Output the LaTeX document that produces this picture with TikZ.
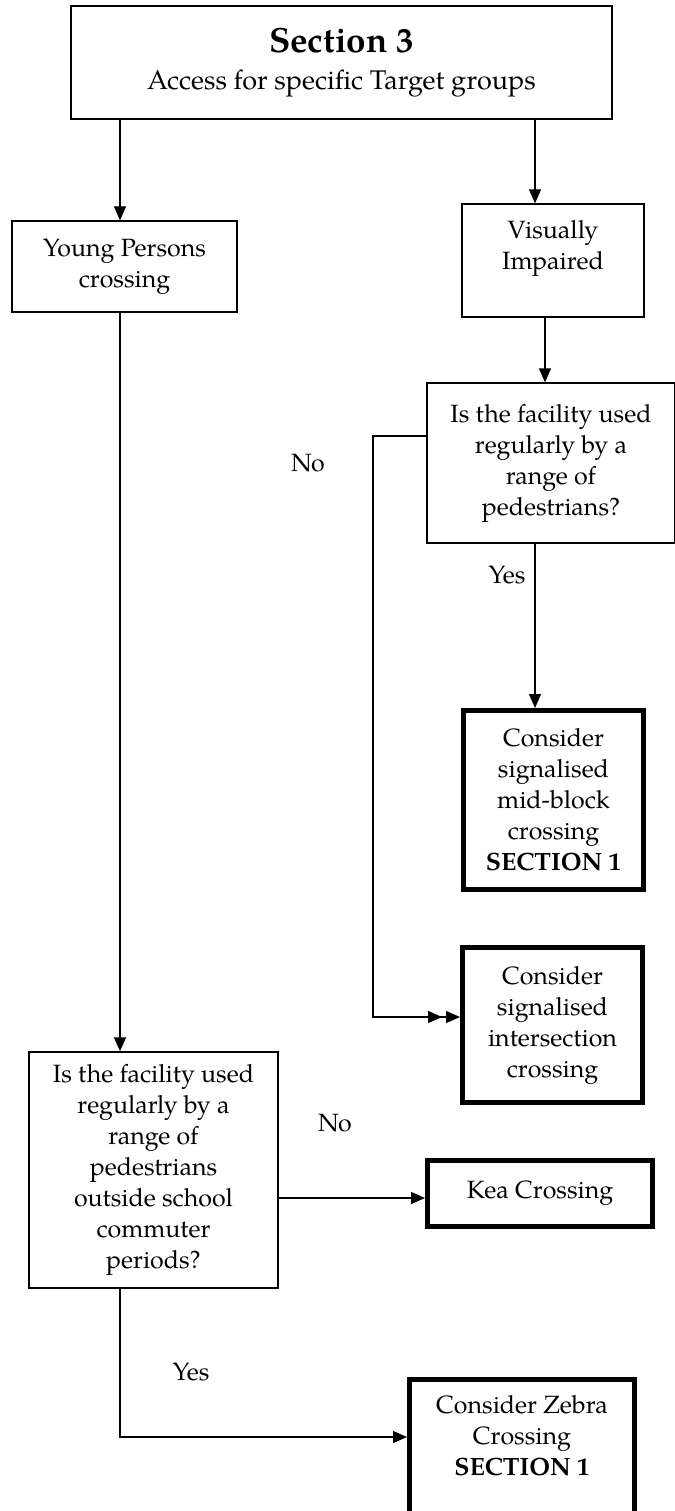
\documentclass[tikz,border=0pt]{standalone}
\usepackage{fontspec}
\setmainfont{TeX Gyre Pagella}
\usetikzlibrary{arrows.meta,calc}
\begin{document}
\begin{tikzpicture}[x=1pt,y=-1pt,
  box/.style={draw,line width=1.3pt,inner sep=0pt,align=center,font=\fontsize{25}{31}\selectfont},
  bbox/.style={box,line width=5pt},
  ln/.style={line width=1.3pt},
  arr/.style={ln,-{Triangle[length=14pt,width=12pt]}},
  darr/.style={ln,-{Triangle[length=14pt,width=12pt,sep=4pt]Triangle[length=14pt,width=12pt]}},
  lbl/.style={font=\fontsize{25}{31}\selectfont,inner sep=0pt}]
\useasboundingbox (0,0) rectangle (674,1511);

% boxes
\node[box,minimum width=541pt,minimum height=113pt] (top) at (341.5,62.5)
  {{\fontsize{35}{40}\selectfont\bfseries Section 3}\\[6pt]{\fontsize{27}{31}\selectfont Access for specific Target groups}\\[-23pt]\mbox{}};
\node[box,minimum width=225pt,minimum height=91pt] (young) at (124.5,266.5) {Young Persons\\crossing};
\node[box,minimum width=182pt,minimum height=113pt] (vi) at (553,260.5) {Visually\\Impaired\\\mbox{}};
\node[box,minimum width=248pt,minimum height=160pt] (q1) at (551,463)
  {Is the facility used\\regularly by a\\range of\\pedestrians?};
\node[bbox,minimum width=180pt,minimum height=179pt] (mid) at (553.5,800)
  {Consider\\signalised\\mid-block\\crossing\\\textbf{SECTION 1}};
\node[bbox,minimum width=180pt,minimum height=155pt] (int) at (552.5,1025)
  {Consider\\signalised\\intersection\\crossing};
\node[box,minimum width=249pt,minimum height=236pt] (q2) at (153.5,1170)
  {Is the facility used\\regularly by a\\range of\\pedestrians\\outside school\\commuter\\periods?};
\node[bbox,minimum width=225pt,minimum height=66pt] (kea) at (540,1193.5) {Kea Crossing};
\node[bbox,minimum width=225pt,minimum height=143pt] (zebra) at (522,1451)
  {Consider Zebra\\Crossing\\\textbf{SECTION 1}\\\mbox{}};

% labels
\node[lbl] (no1) at (308,463) {No};
\node[lbl] (yes1) at (507,575) {Yes};
\node[lbl] (no2) at (335,1123) {No};
\node[lbl] (yes2) at (191,1372) {Yes};

% helper coordinates
\coordinate (xl) at (120,0);
\coordinate (xr) at (535,0);
\coordinate (xv) at (545,0);
\coordinate (xy) at (535,0);
\coordinate (xn) at (373,0);
\coordinate (yq1) at (0,436);
\coordinate (yint) at (0,1017);
\coordinate (ykea) at (0,1198);
\coordinate (yzeb) at (0,1437);

% connectors
\draw[arr] (top.south -| xl) -- (young.north -| xl);
\draw[arr] (top.south -| xr) -- (vi.north -| xr);
\draw[arr] (vi.south -| xv) -- (q1.north -| xv);
\draw[arr] (q1.south -| xy) -- (mid.north -| xy);
\draw[darr] (q1.west |- yq1) -- (xn |- yq1) -- (xn |- yint) -- (int.west |- yint);
\draw[arr] (young.south -| xl) -- (q2.north -| xl);
\draw[arr] (q2.east |- ykea) -- (kea.west |- ykea);
\draw[arr] (q2.south -| xl) -- (xl |- yzeb) -- (zebra.west |- yzeb);
\end{tikzpicture}
\end{document}
